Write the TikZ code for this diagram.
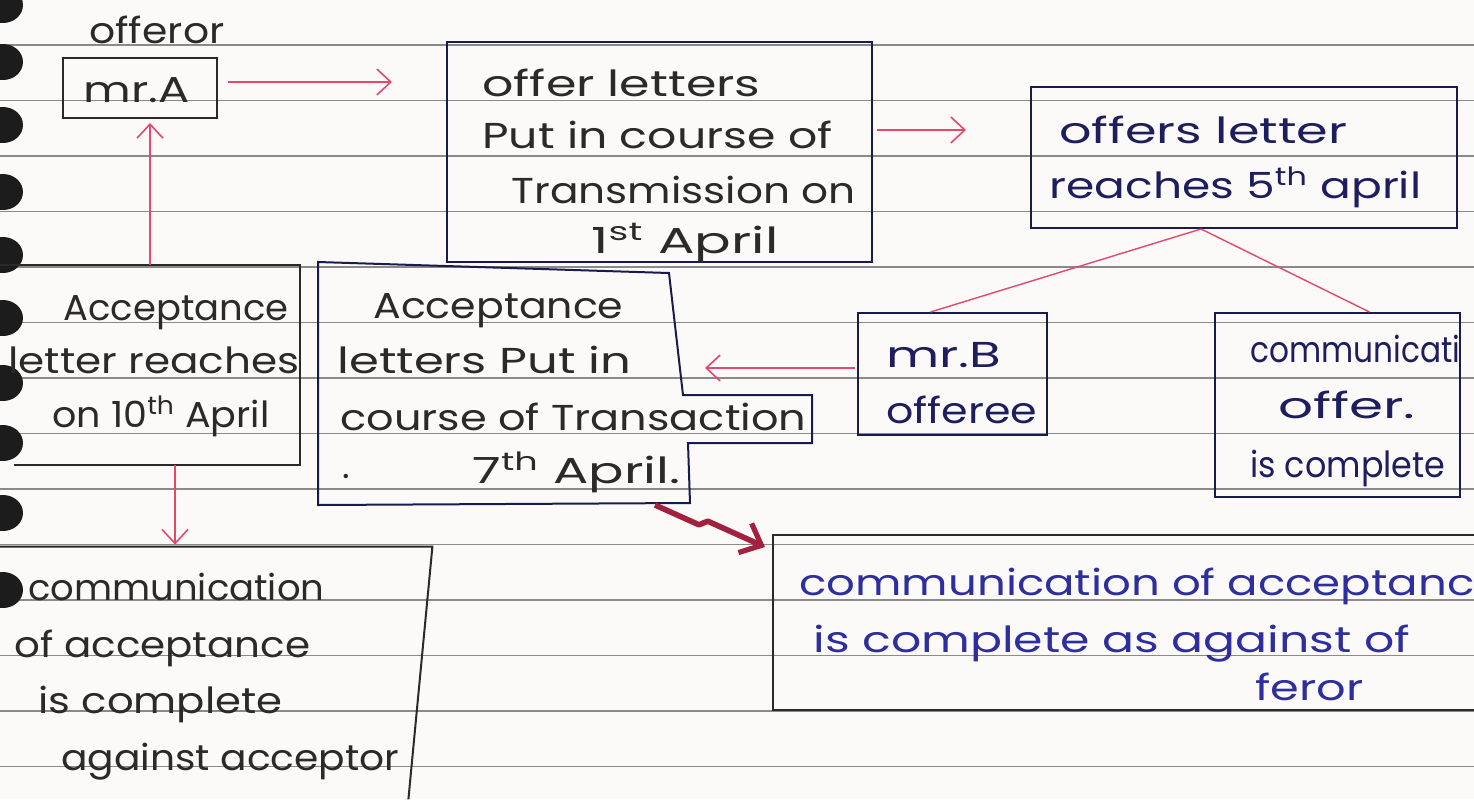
\documentclass[tikz,border=0pt]{standalone}
\usepackage{fontspec}
\usepackage{graphicx}
\setmainfont{Poppins}
\usetikzlibrary{arrows.meta,calc}
\definecolor{paper}{HTML}{FBFAF8}
\definecolor{rulec}{HTML}{8A8A8A}
\definecolor{inkK}{HTML}{2A2A2A}
\definecolor{inkN}{HTML}{1E1E5E}
\definecolor{inkB}{HTML}{2E2E9E}
\definecolor{boxN}{HTML}{1A1A4E}
\definecolor{redink}{HTML}{E2496A}
\definecolor{darkred}{HTML}{A3203F}
\definecolor{holec}{HTML}{1C1C1C}
\newsavebox\hwbox
\newdimen\hwd
\newcommand\hw[2]{\sbox\hwbox{#2}\hwd=\wd\hwbox\pgfmathsetmacro\hwr{(#1*0.5)/\the\hwd}\scalebox{\hwr}[1]{\usebox\hwbox}}
\tikzset{
  txt/.style={inner sep=0pt, anchor=base west, font=\fontsize{18}{20}\selectfont},
  kt/.style={txt, text=inkK},
  nt/.style={txt, text=inkN},
  bt/.style={txt, text=inkB},
  frame/.style={rectangle, inner sep=0pt},
  navybox/.style={frame, draw=boxN, line width=1pt},
  blackbox/.style={frame, draw=inkK, line width=1pt},
  navyline/.style={draw=boxN, line width=1pt},
  blackline/.style={draw=inkK, line width=1pt},
  redarrow/.style={draw=redink, line width=0.8pt, -{Straight Barb[length=7pt,width=13pt]}},
  redline/.style={draw=redink, line width=0.7pt},
  darkarrow/.style={draw=darkred, line width=2.8pt, line join=round, -{Straight Barb[length=9pt,width=16pt,line width=2.6pt]}},
  ruleline/.style={draw=rulec, line width=0.7pt},
}
\begin{document}
\begin{tikzpicture}[x=0.5pt,y=-0.5pt]
\useasboundingbox (0,0) rectangle (1474,799);
\fill[paper] (0,0) rectangle (1474,799);
% ruled lines
\foreach \yy in {45,100.5,156,211.5,267,322.5,378,433.5,489,544.5,600,655.5,711,766.5}
  \draw[ruleline] (0,\yy) -- (1474,\yy);
% binding holes
\foreach \yy in {5,62,125,192,255,318,383,443,513,590}
  \fill[holec] (3,\yy) ellipse [x radius=10pt, y radius=9pt];

% boxes
\node[blackbox, minimum width=77pt, minimum height=30pt] (mrA) at (140,88) {};
\node[navybox, minimum width=212.5pt, minimum height=110pt] (offer) at (659.5,152) {};
\node[navybox, minimum width=213pt, minimum height=70.5pt] (reach) at (1244,157.5) {};
\node[navybox, minimum width=94.5pt, minimum height=61pt] (mrB) at (952.5,374) {};
\node[navybox, minimum width=122.5pt, minimum height=92pt] (comm) at (1337.5,405) {};
\node[frame, minimum width=150pt, minimum height=100pt] (accL) at (150,365) {};
\node[frame, minimum width=216pt, minimum height=126pt] (accB) at (216,673) {};
\node[frame, minimum width=350.5pt, minimum height=87.5pt] (accR) at (1123.5,622.5) {};
\draw[blackline] (accL.north west) -- (accL.north east) -- (accL.south east) -- ([xshift=7pt]accL.south west);
\draw[blackline] (accB.north west) -- (accB.north east) -- ([xshift=-12pt]accB.south east);
\draw[blackline] (accR.north east) -- (accR.north west) -- (accR.south west) -- (accR.south east);
% acceptance letters box (stepped outline)
\coordinate (notch) at (683,370);
\coordinate (accCbot) at (655,505);
\coordinate (accRtip) at (765,547);
\draw[navyline] (318,262) -- (669,273) -- (683,395) -- (812,395) -- (812,443) -- (688,443) -- (690,503) -- (318,505) -- cycle;

% connectors
\draw[redarrow, shorten <=5pt, shorten >=27pt] ([yshift=3pt]mrA.east) -- ([yshift=3pt]mrA.east -| offer.west);
\draw[redarrow, shorten <=2pt, shorten >=32pt] ([yshift=11pt]offer.east) -- ([yshift=11pt]offer.east -| reach.west);
\draw[redarrow, shorten >=2pt] (accL.north) -- (accL.north |- mrA.south);
\draw[redarrow, shorten >=1pt] ([xshift=12.5pt]accL.south) -- ([xshift=12.5pt]accL.south |- accB.north);
\draw[redline] ([xshift=-11pt]mrB.north) -- ([xshift=-21.5pt]reach.south) -- ([xshift=16pt]comm.north);
\draw[redarrow, shorten <=1pt, shorten >=11pt] ([yshift=3pt]mrB.west) -- ([yshift=3pt]mrB.west -| notch);
\draw[darkarrow] (accCbot) -- ($(accCbot)!0.4!(accRtip)+(0,3)$) -- ($(accCbot)!0.48!(accRtip)+(0,-4)$) -- (accRtip);

% texts
\node[kt] (tofferor) at (89,43) {\hw{135}{offeror}};
\node[kt] (tmrA) at (83,102) {\hw{106}{mr.A}};
\node[kt] (to1) at (482,96) {\hw{278}{offer letters}};
\node[kt] (to2) at (482,148) {\hw{350}{Put in course of}};
\node[kt] (to3) at (511,203) {\hw{344}{Transmission on}};
\node[kt] (to4) at (591,253) {\hw{187}{1\textsuperscript{st} April}};

\node[nt] (tr1) at (1059,143) {\hw{288}{offers letter}};
\node[nt] (tr2) at (1049,198) {\hw{372}{reaches 5\textsuperscript{th} april}};

\node[nt] (tb1) at (886,367) {\hw{115}{mr.B}};
\node[nt] (tb2) at (886,423) {\hw{151}{offeree}};

\node[nt] (tc1) at (1250,362) {\hw{210}{communicati}};
\node[nt] (tc2) at (1278,418) {\hw{137}{offer.}};
\node[nt] (tc3) at (1250,477) {\hw{195}{is complete}};

\node[kt] (tl1) at (63,320) {\hw{225}{Acceptance}};
\node[kt] (tl2) at (8,373) {\hw{291}{letter reaches}};
\node[kt] (tl3) at (52,427) {\hw{217}{on 10\textsuperscript{th} April}};

\node[kt] (tm1) at (373,318) {\hw{250}{Acceptance}};
\node[kt] (tm2) at (337,373) {\hw{294}{letters Put in}};
\node[kt] (tm3) at (340,430) {\hw{466}{course of Transaction}};
\node[kt] (tm4) at (342,478) {.};
\node[kt] (tm5) at (472,483) {\hw{208}{7\textsuperscript{th} April.}};

\node[kt] (tx1) at (28,600) {\hw{296}{communication}};
\node[kt] (tx2) at (14,657) {\hw{296}{of acceptance}};
\node[kt] (tx3) at (38,713) {\hw{244}{is complete}};
\node[kt] (tx4) at (61,770) {\hw{338}{against acceptor}};

\node[bt] (ty1) at (799,595) {\hw{675}{communication of acceptanc}};
\node[bt] (ty2) at (813,652) {\hw{597}{is complete as against of}};
\node[bt] (ty3) at (1255,700) {\hw{108}{feror}};
\end{tikzpicture}
\end{document}
